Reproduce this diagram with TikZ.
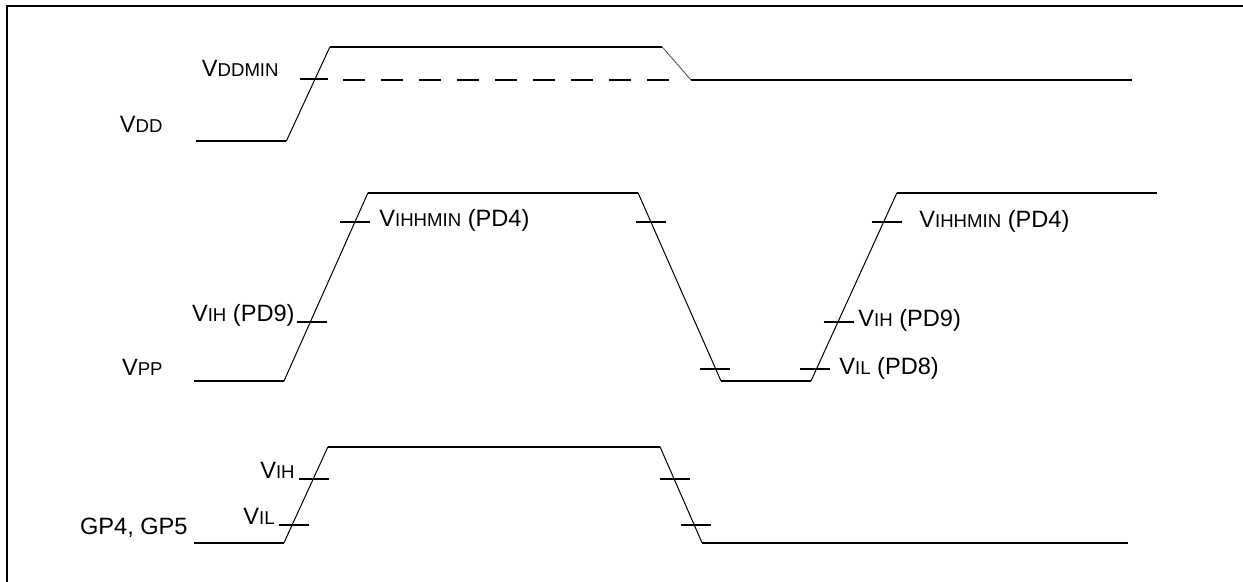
\documentclass[tikz,border=0pt]{standalone}
\usepackage{fontspec}
\setmainfont{Liberation Sans}
\usetikzlibrary{positioning}

\newcommand{\subsz}{\fontsize{9.3}{11}\selectfont}
\newcommand{\vsig}[1]{V{\subsz #1}}

\begin{document}
\begin{tikzpicture}[
  x=0.5pt, y=-0.5pt,
  level/.style={line width=1pt},
  slope/.style={line width=0.5pt},
  fade/.style={line width=0.4pt, draw=black!70},
  tickmark/.style={line width=1pt},
  minline/.style={line width=1pt, dash pattern=on 11pt off 8pt},
  lbl/.style={font=\fontsize{11.8}{14}\selectfont, inner sep=0pt}
]
\useasboundingbox (0,0) rectangle (1243,582);

%% ==== Frame ====
\draw[line width=1pt] (7.3,582) -- (7.3,6.3) -- (1243,6.3);

%% ==== VDD ====
\coordinate (d0) at (196,141.2);
\coordinate (d1) at (286.3,141.2);
\coordinate (d2) at (330,46.7);
\coordinate (d3) at (662,46.7);
\coordinate (d4) at (691,80);
\coordinate (d5) at (1132,80);
\draw[level] (d0) -- (d1);
\draw[slope] (d1) -- (d2);
\draw[level] (d2) -- (d3);
\draw[fade]  (d3) -- (d4);
\draw[level] (d4) -- (d5);
\draw[tickmark] (299.5,79.5) -- (328,79.5);
\draw[minline] (343,80) -- (670,80);

\node[lbl, anchor=base east] (lblVDD)    at (163,133) {\vsig{DD}};
\node[lbl, anchor=base east] (lblVDDMIN) at (279,76.7) {\vsig{DDMIN}};

%% ==== VPP ====
\coordinate (p0) at (194,381);
\coordinate (p1) at (284,381);
\coordinate (p2) at (368,192.7);
\coordinate (p3) at (638,192.7);
\coordinate (p4) at (721,381);
\coordinate (p5) at (811,381);
\coordinate (p6) at (897,192.7);
\coordinate (p7) at (1157,192.7);
\foreach \a/\b in {p0/p1, p2/p3, p4/p5, p6/p7}
  \draw[level] (\a) -- (\b);
\foreach \a/\b in {p1/p2, p3/p4, p5/p6}
  \draw[slope] (\a) -- (\b);
\foreach \x/\y in {355/222, 312/321.7, 650.5/221.7, 714.5/369,
                   815/369, 838.5/321.7, 886.5/221.7}
  \draw[tickmark] ({\x-15},\y) -- ({\x+15},\y);

\node[lbl, anchor=base east] (lblVPP)   at (163,376)   {\vsig{PP}};
\node[lbl, anchor=base west] (lblHHa)   at (379,226.5) {\vsig{IHHMIN} (PD4)};
\node[lbl, anchor=base east] (lblIHa)   at (295,322)   {\vsig{IH} (PD9)};
\node[lbl, anchor=base west] (lblHHb)   at (919,228)   {\vsig{IHHMIN} (PD4)};
\node[lbl, anchor=base west] (lblIHb)   at (858,326.7) {\vsig{IH} (PD9)};
\node[lbl, anchor=base west] (lblILb)   at (839,375)   {\vsig{IL} (PD8)};

%% ==== GP4, GP5 ====
\coordinate (g0) at (194,542.7);
\coordinate (g1) at (284,542.7);
\coordinate (g2) at (328,446.7);
\coordinate (g3) at (660,446.7);
\coordinate (g4) at (702,542.7);
\coordinate (g5) at (1128,542.7);
\foreach \a/\b in {g0/g1, g2/g3, g4/g5}
  \draw[level] (\a) -- (\b);
\foreach \a/\b in {g1/g2, g3/g4}
  \draw[slope] (\a) -- (\b);
\foreach \x/\y in {314/479, 293.8/525, 675/479, 696/525}
  \draw[tickmark] ({\x-15},\y) -- ({\x+15},\y);

\node[lbl, anchor=base east] (lblGP)  at (188,535) {GP4, GP5};
\node[lbl, anchor=base east] (lblVIH) at (295,479) {\vsig{IH}};
\node[lbl, anchor=base east] (lblVIL) at (275,524) {\vsig{IL}};

\end{tikzpicture}
\end{document}
